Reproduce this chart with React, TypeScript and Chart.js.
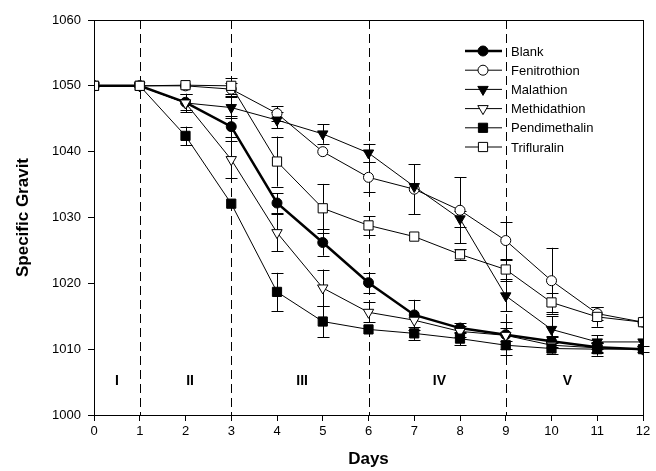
import React, { useEffect, useRef } from "react";
import { Chart, registerables } from "chart.js";
import { drawPoint } from "chart.js/helpers";

Chart.register(...registerables);

const days = [0, 1, 2, 3, 4, 5, 6, 7, 8, 9, 10, 11, 12];
const yTicks = [1000, 1010, 1020, 1030, 1040, 1050, 1060];

const blank = [1050, 1050, 1047.5, 1043.8, 1032.2, 1026.2, 1020.1, 1015.2, 1013.2, 1012.2, 1011.2, 1010.3, 1010];
const blankErr = [0, 0, 1.2, 1.6, 1.5, 2, 1.5, 2.3, 0.8, 1, 0.8, 0.8, 0.5];
const fenitrothion = [1050, 1050, 1050, 1049.5, 1045.8, 1040, 1036.1, 1034.3, 1031.1, 1026.5, 1020.4, 1015.4, 1014.1];
const fenitrothionErr = [0, 0, 0, 1, 1.1, 0, 2.3, 3.8, 5, 2.8, 5, 1, 0];
const malathion = [1050, 1050, 1047.4, 1046.7, 1044.8, 1042.7, 1039.8, 1034.7, 1029.8, 1018.1, 1013, 1011.1, 1011.1];
const malathionErr = [0, 0, 0, 1.6, 1.2, 1.5, 1.4, 0, 1.2, 2.3, 2, 1, 0];
const methidathion = [1050, 1050, 1047.4, 1038.8, 1027.7, 1019.3, 1015.6, 1014.4, 1012.7, 1012.1, 1010.6, 1010.2, 1010];
const methidathionErr = [0, 0, 1.4, 2.8, 2.8, 2.8, 1.5, 0, 0.8, 2, 1.3, 0.8, 0];
const pendimethalin = [1050, 1050, 1042.4, 1032.1, 1018.7, 1014.2, 1013, 1012.4, 1011.6, 1010.6, 1010.1, 1010, 1010];
const pendimethalinErr = [0, 0, 1.4, 0, 2.9, 2.4, 0, 1, 1, 1.5, 0, 1, 0];
const trifluralin = [1050, 1050, 1050.1, 1050, 1038.5, 1031.4, 1028.8, 1027.1, 1024.4, 1022.1, 1017.1, 1014.9, 1014.1];
const trifluralinErr = [0, 0, 0, 1.2, 3.8, 3.7, 1.4, 0, 0.8, 1.5, 1.5, 1.5, 0];

const phaseBounds = [1, 3, 6, 9];
const phaseLabels = ["I", "II", "III", "IV", "V"];
const phaseLabelX = [0.5, 2.1, 4.55, 7.55, 10.35];
const phaseLabelY = 1005.2;

const FONT = "'Liberation Sans', Arial, sans-serif";

type S = {
  label: string;
  data: number[];
  err: number[];
  style: string;
  filled: boolean;
  rotation: number;
  radius: number;
  width: number;
};

const series: S[] = [
  { label: "Blank", data: blank, err: blankErr, style: "circle", filled: true, rotation: 0, radius: 5, width: 2.5 },
  { label: "Fenitrothion", data: fenitrothion, err: fenitrothionErr, style: "circle", filled: false, rotation: 0, radius: 5, width: 1 },
  { label: "Malathion", data: malathion, err: malathionErr, style: "triangle", filled: true, rotation: 180, radius: 6, width: 1 },
  { label: "Methidathion", data: methidathion, err: methidathionErr, style: "triangle", filled: false, rotation: 180, radius: 6, width: 1 },
  { label: "Pendimethalin", data: pendimethalin, err: pendimethalinErr, style: "rect", filled: true, rotation: 0, radius: 6.5, width: 1 },
  { label: "Trifluralin", data: trifluralin, err: trifluralinErr, style: "rect", filled: false, rotation: 0, radius: 6.5, width: 1 },
];

const decorPlugin = {
  id: "decor",
  beforeDatasetsDraw(chart: any) {
    const { ctx, chartArea, scales } = chart;
    const x = scales.x;
    const y = scales.y;
    ctx.save();
    ctx.strokeStyle = "#000";
    ctx.lineWidth = 1;
    ctx.setLineDash([9, 5]);
    phaseBounds.forEach((b) => {
      const px = Math.round(x.getPixelForValue(b)) + 0.5;
      ctx.beginPath();
      ctx.moveTo(px, chartArea.top);
      ctx.lineTo(px, chartArea.bottom);
      ctx.stroke();
    });
    ctx.setLineDash([]);
    ctx.fillStyle = "#000";
    ctx.font = `bold 14px ${FONT}`;
    ctx.textAlign = "center";
    ctx.textBaseline = "middle";
    phaseLabels.forEach((l, i) => {
      ctx.fillText(l, x.getPixelForValue(phaseLabelX[i]), y.getPixelForValue(phaseLabelY));
    });
    ctx.lineWidth = 1;
    series.forEach((s) => {
      s.data.forEach((v, i) => {
        const e = s.err[i];
        if (!e) return;
        const px = Math.round(x.getPixelForValue(days[i])) + 0.5;
        const top = y.getPixelForValue(v + e);
        const bot = y.getPixelForValue(v - e);
        ctx.beginPath();
        ctx.moveTo(px, top);
        ctx.lineTo(px, bot);
        ctx.moveTo(px - 6, Math.round(top) + 0.5);
        ctx.lineTo(px + 6, Math.round(top) + 0.5);
        ctx.moveTo(px - 6, Math.round(bot) + 0.5);
        ctx.lineTo(px + 6, Math.round(bot) + 0.5);
        ctx.stroke();
      });
    });
    ctx.restore();
  },
  afterDraw(chart: any) {
    const { ctx, chartArea } = chart;
    ctx.save();
    ctx.strokeStyle = "#000";
    ctx.lineWidth = 1;
    ctx.strokeRect(
      Math.round(chartArea.left) + 0.5,
      Math.round(chartArea.top) + 0.5,
      Math.round(chartArea.right - chartArea.left),
      Math.round(chartArea.bottom - chartArea.top)
    );
    const x0 = 465;
    const x1 = 502;
    const mx = 483;
    const tx = 511;
    const y0 = 51;
    const dy = 19.2;
    ctx.font = `13px ${FONT}`;
    ctx.textAlign = "left";
    ctx.textBaseline = "middle";
    series.forEach((s, i) => {
      const yy = y0 + i * dy;
      ctx.strokeStyle = "#000";
      ctx.lineWidth = s.width;
      ctx.beginPath();
      ctx.moveTo(x0, yy);
      ctx.lineTo(x1, yy);
      ctx.stroke();
      ctx.lineWidth = 1;
      ctx.fillStyle = s.filled ? "#000" : "#fff";
      drawPoint(ctx, { pointStyle: s.style, rotation: s.rotation, radius: s.radius, borderWidth: 1 } as any, mx, yy);
      ctx.fillStyle = "#000";
      ctx.fillText(s.label, tx, yy + 1);
    });
    ctx.restore();
  },
};

export default function App() {
  const ref = useRef<HTMLCanvasElement | null>(null);
  useEffect(() => {
    if (!ref.current) return;
    const chart = new Chart(ref.current, {
      type: "line",
      data: {
        datasets: series.map((s, i) => ({
          label: s.label,
          data: s.data.map((v, j) => ({ x: days[j], y: v })),
          order: series.length - 1 - i,
          borderColor: "#000",
          borderWidth: s.width,
          backgroundColor: s.filled ? "#000" : "#fff",
          pointBackgroundColor: s.filled ? "#000" : "#fff",
          pointBorderColor: "#000",
          pointBorderWidth: 1,
          pointStyle: s.style as any,
          pointRotation: s.rotation,
          pointRadius: s.radius,
          tension: 0,
          fill: false,
        })),
      },
      options: {
        animation: false,
        responsive: false,
        maintainAspectRatio: false,
        layout: { padding: { left: 0, right: 13, top: 20, bottom: 0 } },
        plugins: { legend: { display: false }, tooltip: { enabled: false } },
        scales: {
          x: {
            type: "linear",
            min: 0,
            max: 12,
            afterFit: (s: any) => {
              s.height = 56;
            },
            ticks: {
              stepSize: 1,
              color: "#000",
              font: { family: FONT, size: 13 },
              padding: 3,
              callback: (v: any) => String(v),
            },
            grid: { drawOnChartArea: false, drawTicks: true, tickLength: 6, color: "#000" },
            border: { color: "#000", width: 1 },
            title: {
              display: true,
              text: "Days",
              color: "#000",
              font: { family: FONT, size: 17, weight: "bold" },
              padding: { top: 0, bottom: 1 },
            },
          },
          y: {
            type: "linear",
            min: 1000,
            max: 1060,
            afterFit: (s: any) => {
              s.width = 94;
            },
            afterBuildTicks: (s: any) => {
              s.ticks = yTicks.map((v) => ({ value: v }));
            },
            ticks: {
              color: "#000",
              font: { family: FONT, size: 13 },
              padding: 7,
              callback: (v: any) => String(v),
            },
            grid: { drawOnChartArea: false, drawTicks: true, tickLength: 6, color: "#000" },
            border: { color: "#000", width: 1 },
            title: {
              display: true,
              text: "Specific Gravit",
              color: "#000",
              font: { family: FONT, size: 17, weight: "bold" },
              padding: { top: 13, bottom: 0 },
            },
          },
        },
      },
      plugins: [decorPlugin],
    });
    return () => chart.destroy();
  }, []);
  return (
    <div style={{ position: "fixed", left: 0, top: 0, width: 656, height: 471, background: "#fff" }}>
      <canvas ref={ref} width={656} height={471} style={{ display: "block" }} />
    </div>
  );
}
